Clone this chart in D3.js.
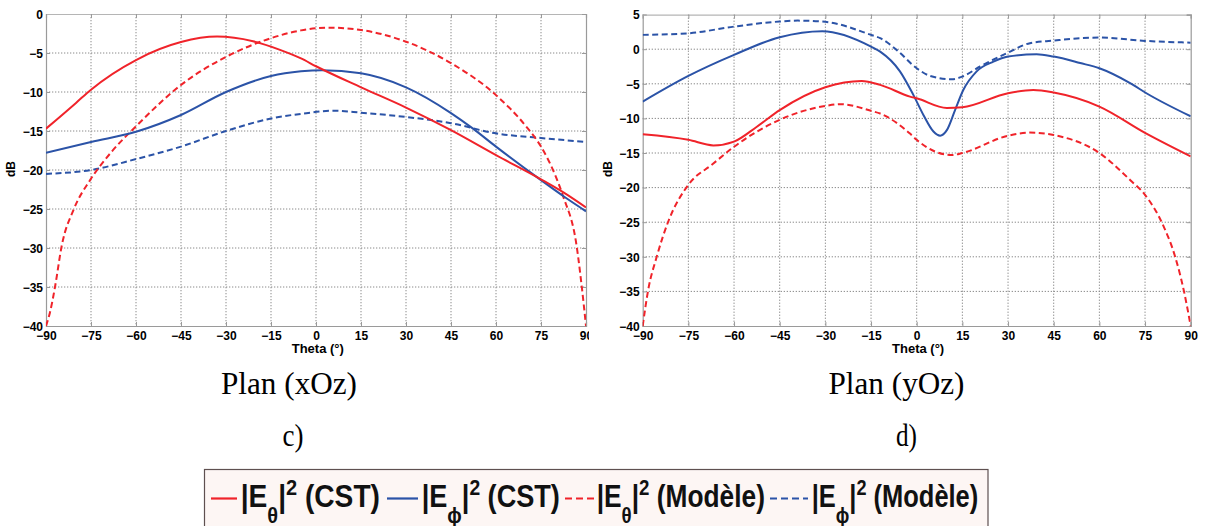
<!DOCTYPE html>
<html>
<head>
<meta charset="utf-8">
<script src="https://cdn.jsdelivr.net/npm/d3@7"></script>
<style>
  html, body { margin: 0; padding: 0; background: #fff; }
  svg { display: block; }
  .tick text { font-family: "Liberation Sans", Arial, sans-serif; font-weight: bold; font-size: 12px; fill: #000; }
</style>
</head>
<body>
<svg id="fig" width="1206" height="526"></svg>
<script>
// ---------------- DATA ----------------
const thetaTicks = [-90, -75, -60, -45, -30, -15, 0, 15, 30, 45, 60, 75, 90];
const yTicksXoz = [0, -5, -10, -15, -20, -25, -30, -35, -40];
const yTicksYoz = [5, 0, -5, -10, -15, -20, -25, -30, -35, -40];

// Plan (xOz)
const xozEthetaCstTheta = [-90, -80, -75, -60, -45, -33, -21, -12, -5, 0, 15, 30, 45, 60, 75, 83, 90];
const xozEthetaCst      = [-14.7, -11.4, -9.7, -5.9, -3.6, -2.9, -3.5, -4.6, -5.7, -6.7, -9.4, -12.0, -14.9, -18.1, -21.2, -23.0, -24.8];
const xozEphiCstTheta = [-90, -75, -60, -45, -30, -15, -5, 2, 15, 30, 45, 52, 60, 75, 83, 90];
const xozEphiCst      = [-17.8, -16.4, -15.1, -12.95, -10.0, -7.95, -7.35, -7.2, -7.6, -9.4, -12.7, -14.6, -17.0, -21.3, -23.5, -25.3];
const xozEthetaModTheta = [-90, -88.7, -87, -84.8, -80.7, -75.3, -68, -60, -45, -30, -15, -5, 4, 15, 30, 45, 60, 70, 75, 80, 82.4, 86.9, 88.6, 90];
const xozEthetaMod      = [-40, -38.3, -35, -29.8, -25.0, -21.3, -17.6, -14.4, -9.1, -5.5, -3.1, -2.1, -1.75, -2.05, -3.55, -6.3, -10.4, -14.4, -17.0, -20.9, -23.4, -29.8, -35, -40];
const xozEphiModTheta = [-90, -75, -60, -45, -30, -15, -5, 6, 15, 30, 45, 60, 75, 90];
const xozEphiMod      = [-20.5, -20.0, -18.6, -17.0, -15.0, -13.4, -12.8, -12.4, -12.65, -13.2, -14.0, -15.3, -15.9, -16.4];

// Plan (yOz)
const yozEthetaCstTheta = [-90, -75, -66.8, -60, -52.5, -45, -30, -18.1, -12, -2.2, 0, 9.9, 15, 30, 38.3, 45, 60, 75, 90];
const yozEthetaCst      = [-12.3, -13.1, -13.9, -13.35, -11.2, -8.8, -5.5, -4.6, -5.16, -6.85, -7.1, -8.5, -8.4, -6.36, -5.9, -6.27, -8.3, -12.1, -15.5];
const yozEphiCstTheta = [-90, -75, -60, -45, -31, -15, -12, -5.5, -1.1, 2.2, 5.5, 7.7, 9.9, 12.6, 15.3, 19.7, 25.2, 30, 39.4, 45, 53.7, 60, 70.1, 75.6, 90];
const yozEphiCst      = [-7.57, -3.86, -0.82, 1.73, 2.6, 0.38, -0.35, -3.2, -6.6, -9.5, -11.9, -12.5, -11.7, -8.8, -5.9, -3.2, -1.8, -1.07, -0.72, -1.07, -2.0, -2.75, -4.9, -6.4, -9.7];
const yozEthetaModTheta = [-90, -88.2, -85.4, -81.6, -75, -67, -60, -45, -30, -25, -15, -12, -2.2, 0, 11.5, 15, 30, 37.1, 45, 60, 70.1, 75, 81.1, 84.9, 87.7, 90];
const yozEthetaMod      = [-40, -34.8, -30, -24.9, -19.6, -16.6, -14.1, -10.2, -8.2, -7.95, -8.9, -9.3, -12.2, -13.1, -15.3, -15.0, -12.5, -12.05, -12.4, -15.0, -18.9, -21.05, -25.6, -30, -34.8, -40];
const yozEphiModTheta = [-90, -75, -60, -45, -39, -30, -15, -12, -6.6, 0, 4.4, 11.5, 15, 20.8, 30, 37.2, 45, 53.7, 60, 75, 90];
const yozEphiMod      = [2.07, 2.3, 3.27, 4.0, 4.13, 3.95, 2.07, 1.6, -0.1, -2.75, -3.86, -4.34, -3.96, -2.5, -0.49, 0.87, 1.24, 1.59, 1.68, 1.2, 0.95];

const legendSub = ["θ", "ϕ", "θ", "ϕ"];
const legendSuffix = [" (CST)", " (CST)", " (Modèle)", " (Modèle)"];
const captionPlans = ["Plan (xOz)", "Plan (yOz)"];
const captionLetters = ["c)", "d)"];
const axisXLabel = "Theta (°)";
const axisYLabel = "dB";

// ---------------- STYLE ----------------
const RED = "#f0232a";
const BLUE = "#2b53a7";
const svg = d3.select("#fig");
const FONT = '"Liberation Sans", Arial, sans-serif';
const SERIF = '"Liberation Serif", "Times New Roman", serif';

function zip(t, v) { return t.map((d, i) => ({ t: d, v: v[i] })); }

function drawChart(opt) {
  const g = svg.append("g");
  const x = d3.scaleLinear().domain([-90, 90]).range([opt.x0, opt.x1]);
  const y = d3.scaleLinear().domain([opt.yMin, opt.yMax]).range([opt.y1, opt.y0]);
  const W = opt.x1 - opt.x0, H = opt.y1 - opt.y0;

  const labClipId = "lab" + opt.id;
  svg.append("clipPath").attr("id", labClipId).append("rect")
    .attr("x", opt.x0 - 60).attr("y", 0).attr("width", opt.labelClipRight - (opt.x0 - 60)).attr("height", 526);
  const plotClipId = "plot" + opt.id;
  svg.append("clipPath").attr("id", plotClipId).append("rect")
    .attr("x", opt.x0).attr("y", opt.y0 - 1).attr("width", W).attr("height", H + 2);

  // grid
  const grid = g.append("g");
  grid.selectAll("line.vx").data(thetaTicks.slice(1, -1)).join("line")
    .attr("x1", d => x(d)).attr("x2", d => x(d)).attr("y1", opt.y0).attr("y2", opt.y1)
    .attr("stroke", "#8a8a8a").attr("stroke-width", 1).attr("stroke-dasharray", "1.3,1.7");
  grid.selectAll("line.hy").data(opt.yTicks.filter(d => d !== opt.yMin && d !== opt.yMax)).join("line")
    .attr("x1", opt.x0).attr("x2", opt.x1).attr("y1", d => y(d)).attr("y2", d => y(d))
    .attr("stroke", "#8a8a8a").attr("stroke-width", 1).attr("stroke-dasharray", "1.3,1.7");

  // axes
  const ax = g.append("g").attr("clip-path", `url(#${labClipId})`);
  const bottom = ax.append("g").attr("transform", `translate(0,${opt.y1})`)
    .call(d3.axisBottom(x).tickValues(thetaTicks).tickSize(-4).tickPadding(5.5));
  const left = ax.append("g").attr("transform", `translate(${opt.x0},0)`)
    .call(d3.axisLeft(y).tickValues(opt.yTicks).tickSize(-4).tickPadding(3));
  const top = ax.append("g").attr("transform", `translate(0,${opt.y0})`)
    .call(d3.axisTop(x).tickValues(thetaTicks).tickSize(-4).tickFormat(""));
  const right = ax.append("g").attr("transform", `translate(${opt.x1},0)`)
    .call(d3.axisRight(y).tickValues(opt.yTicks).tickSize(-4).tickFormat(""));
  [bottom, left, top, right].forEach(a => {
    a.select(".domain").attr("stroke", "#9a9a9a").attr("stroke-width", 1.2);
    a.selectAll(".tick line").attr("stroke", "#9a9a9a");
  });
  top.select(".domain").attr("stroke", "#b5b5b5");
  left.selectAll(".tick text").attr("dy", "0.36em");

  // axis labels
  g.append("text").attr("x", opt.x0 + (opt.x1 - opt.x0) * 0.455).attr("y", 353)
    .attr("font-family", FONT).attr("font-weight", "bold").attr("font-size", 13).text(axisXLabel);
  g.append("text").attr("transform", `translate(${opt.x0 - 31},${169}) rotate(-90)`)
    .attr("text-anchor", "middle").attr("font-family", FONT).attr("font-weight", "bold")
    .attr("font-size", 12).text(axisYLabel);

  // lines
  const line = d3.line().x(d => x(d.t)).y(d => y(d.v)).curve(d3.curveMonotoneX);
  const lg = g.append("g").attr("clip-path", `url(#${plotClipId})`);
  opt.series.forEach(s => {
    lg.append("path").datum(zip(s.t, s.v)).attr("d", line)
      .attr("fill", "none").attr("stroke", s.color).attr("stroke-width", 2)
      .attr("stroke-dasharray", s.dash ? "6,3.5" : null)
      .attr("stroke-linejoin", "round");
  });
}

drawChart({
  id: "a", x0: 46, x1: 586, y0: 14, y1: 326, yMin: -40, yMax: 0, yTicks: yTicksXoz, labelClipRight: 589,
  series: [
    { t: xozEphiModTheta, v: xozEphiMod, color: BLUE, dash: true },
    { t: xozEthetaModTheta, v: xozEthetaMod, color: RED, dash: true },
    { t: xozEphiCstTheta, v: xozEphiCst, color: BLUE, dash: false },
    { t: xozEthetaCstTheta, v: xozEthetaCst, color: RED, dash: false },
  ]
});
drawChart({
  id: "b", x0: 642.7, x1: 1190.7, y0: 14.6, y1: 326, yMin: -40, yMax: 5, yTicks: yTicksYoz, labelClipRight: 1206,
  series: [
    { t: yozEphiModTheta, v: yozEphiMod, color: BLUE, dash: true },
    { t: yozEthetaModTheta, v: yozEthetaMod, color: RED, dash: true },
    { t: yozEphiCstTheta, v: yozEphiCst, color: BLUE, dash: false },
    { t: yozEthetaCstTheta, v: yozEthetaCst, color: RED, dash: false },
  ]
});

// captions
const capX = [289, 896.5];
captionPlans.forEach((c, i) => {
  svg.append("text").attr("x", capX[i]).attr("y", 394).attr("text-anchor", "middle")
    .attr("font-family", SERIF).attr("font-size", 32)
    .attr("textLength", 136).attr("lengthAdjust", "spacingAndGlyphs").text(c);
});
const letX = [293, 906.5];
captionLetters.forEach((c, i) => {
  svg.append("text").attr("x", letX[i]).attr("y", 446).attr("text-anchor", "middle")
    .attr("font-family", SERIF).attr("font-size", 32)
    .attr("textLength", 21).attr("lengthAdjust", "spacingAndGlyphs").text(c);
});

// legend
svg.append("rect").attr("x", 204.5).attr("y", 469.5).attr("width", 783.5).attr("height", 70)
  .attr("fill", "#fdf6f4").attr("stroke", "#5e5050").attr("stroke-width", 1.2);
const legColors = [RED, BLUE, RED, BLUE];
const legDash = [false, false, true, true];
const legLine = [[211, 237], [387, 418], [565, 594], [770, 808]];
const legText = [[240.7, 380], [421.7, 560], [596.7, 765], [811.7, 978.3]];
legendSub.forEach((sub, i) => {
  svg.append("line").attr("x1", legLine[i][0]).attr("x2", legLine[i][1]).attr("y1", 498.5).attr("y2", 498.5)
    .attr("stroke", legColors[i]).attr("stroke-width", 2.2)
    .attr("stroke-dasharray", legDash[i] ? "7,4" : null);
  const wrap = svg.append("g");
  const t = wrap.append("text").attr("x", 0).attr("y", 507)
    .attr("font-family", FONT).attr("font-weight", "bold").attr("font-size", 31).attr("fill", "#111");
  t.append("tspan").text("|E");
  t.append("tspan").attr("font-size", 22).attr("dy", 16).text(sub);
  t.append("tspan").attr("dy", -16).text("|");
  t.append("tspan").attr("font-size", 22).attr("dy", -12).text("2");
  t.append("tspan").attr("dy", 12).text(legendSuffix[i]);
  const w = t.node().getComputedTextLength();
  const target = legText[i][1] - legText[i][0];
  wrap.attr("transform", `translate(${legText[i][0]},0) scale(${target / w},1)`);
});
</script>
</body>
</html>
